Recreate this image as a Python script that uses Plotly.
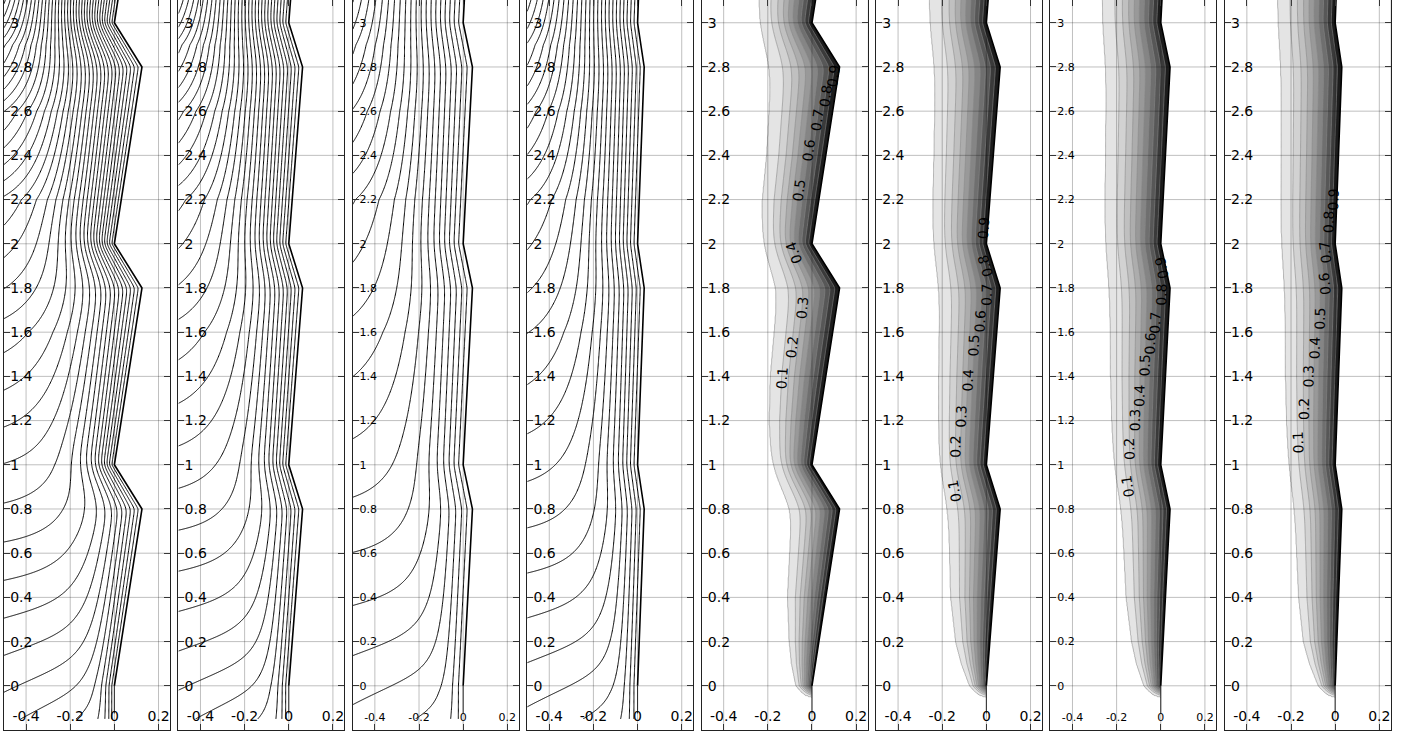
import numpy as np
import plotly.graph_objects as go

# ---------------- data ----------------
# zig-zag wall: vertices (y) and relative offset (x / amplitude)
WALL_Y = [-0.2, 0.0, 0.8, 1.0, 1.8, 2.0, 2.8, 3.0, 3.8, 4.0]
WALL_SHAPE = [0.0, 0.0, 1.0, 0.0, 1.0, 0.0, 1.0, 0.0, 1.0, 0.0]
AMPLITUDES = [0.125, 0.0625, 0.042, 0.03, 0.125, 0.0625, 0.042, 0.03]

# line panels (1-4): near-wall line density and far-field level knots
LINE_A = [85, 72, 48, 62]
LINE_KNOT_Y = [-0.8, -0.2, 0.4, 1.0, 1.6, 2.2, 2.6, 2.9, 3.1]
LINE_P1 = [2.4, 6.0, 9.7, 13.4, 17.5, 23.0, 31.0, 42.0, 56.0]
LINE_P2 = [2.0, 5.0, 8.5, 12.0, 15.6, 20.5, 27.0, 36.0, 48.0]
LINE_P3 = [1.2, 3.5, 6.3, 9.0, 11.6, 15.0, 20.0, 26.0, 33.0]
LINE_P4 = [1.8, 4.5, 7.6, 10.8, 14.0, 18.2, 24.0, 31.5, 41.0]
LINE_KNOTS = [LINE_P1, LINE_P2, LINE_P3, LINE_P4]

# filled panels (5-8): boundary-layer edge thickness knots
DELTA_Y = [-0.055, -0.045, -0.03, -0.015, 0.0, 0.1, 0.2, 0.4, 0.8, 1.2, 1.4, 1.8,
           2.0, 2.2, 2.4, 2.8, 3.0, 3.2]
DELTA_P5 = [0.0, 0.03, 0.048, 0.062, 0.075, 0.105, 0.125, 0.15, 0.165, 0.21, 0.22,
            0.215, 0.23, 0.24, 0.235, 0.24, 0.248, 0.25]
DELTA_P6 = [0.0, 0.03, 0.05, 0.065, 0.078, 0.12, 0.15, 0.18, 0.205, 0.225, 0.232,
            0.24, 0.245, 0.25, 0.252, 0.258, 0.262, 0.265]
DELTA_P7 = [0.0, 0.03, 0.05, 0.065, 0.078, 0.115, 0.14, 0.17, 0.2, 0.228, 0.238,
            0.25, 0.254, 0.258, 0.26, 0.265, 0.268, 0.27]
DELTA_P8 = [0.0, 0.03, 0.05, 0.065, 0.078, 0.12, 0.15, 0.175, 0.2, 0.225, 0.233,
            0.242, 0.246, 0.25, 0.252, 0.258, 0.262, 0.265]
DELTAS = [DELTA_P5, DELTA_P6, DELTA_P7, DELTA_P8]

LEVELS = [0.1, 0.2, 0.3, 0.4, 0.5, 0.6, 0.7, 0.8, 0.9]
LABEL_Y_P5 = [1.39, 1.53, 1.71, 1.96, 2.24, 2.42, 2.56, 2.67, 2.76]
LABEL_Y_P6 = [0.88, 1.08, 1.22, 1.38, 1.54, 1.65, 1.77, 1.90, 2.07]
LABEL_Y_P7 = [0.90, 1.07, 1.20, 1.31, 1.45, 1.55, 1.64, 1.77, 1.89]
LABEL_Y_P8 = [1.10, 1.25, 1.40, 1.53, 1.66, 1.82, 1.96, 2.10, 2.20]
LABEL_YS = [LABEL_Y_P5, LABEL_Y_P6, LABEL_Y_P7, LABEL_Y_P8]

X_TICKS = [-0.4, -0.2, 0.0, 0.2]
X_TICK_TEXT = ['-0.4', '-0.2', '0', '0.2']
Y_TICKS = [0, 0.2, 0.4, 0.6, 0.8, 1, 1.2, 1.4, 1.6, 1.8, 2, 2.2, 2.4, 2.6, 2.8, 3]
Y_TICK_TEXT = ['0', '0.2', '0.4', '0.6', '0.8', '1', '1.2', '1.4', '1.6', '1.8',
               '2', '2.2', '2.4', '2.6', '2.8', '3']

FILL_SCALE = ['#ffffff', '#e4e4e4', '#d2d2d2', '#c0c0c0', '#adadad', '#999999',
              '#858585', '#6f6f6f', '#575757', '#3a3a3a', '#1c1c1c']

# ---------------- geometry helpers ----------------
XR = [-0.5, 0.252]
YR = [-0.2, 3.103]
XG = np.linspace(-0.5, 0.25, 280)
YG_FILL = np.linspace(-0.2, 3.11, 660)
YG_LINE = np.linspace(-0.15, 3.11, 640)
DAMP_L = 0.3
SMOOTH_K = 0.4
YF = np.arange(-1.0, 4.6, 0.002)
SIGMAS = np.linspace(0.0, 0.4, 41)


def smoothed_walls(amp):
    base = amp * np.interp(YF, WALL_Y, WALL_SHAPE)
    out = np.empty((len(SIGMAS), len(YF)))
    out[0] = base
    for i, sg in enumerate(SIGMAS[1:], 1):
        half = int(4 * sg / 0.002) + 1
        kx = np.arange(-half, half + 1) * 0.002
        ker = np.exp(-0.5 * (kx / sg) ** 2)
        ker /= ker.sum()
        padded = np.pad(base, half, mode='edge')
        out[i] = np.convolve(padded, ker, mode='valid')
    return out


WALL_CACHE = {}


def dist_field(amp, xg, yg):
    if amp not in WALL_CACHE:
        WALL_CACHE[amp] = smoothed_walls(amp)
    Wsm = WALL_CACHE[amp]
    sg = np.linspace(-0.5, 1.6, 3000)
    sig_s = np.clip(SMOOTH_K * np.clip(sg, 0, None), 0, SIGMAS[-1])
    a = np.exp(-np.clip(sg, 0, None) / DAMP_L)
    S = np.empty((len(yg), len(xg)))
    for j, y in enumerate(yg):
        Wy = np.array([np.interp(y, YF, Wsm[i]) for i in range(len(SIGMAS))])
        W = np.interp(sig_s, SIGMAS, Wy)
        xs = a * W - sg
        S[j] = np.interp(xg, xs[::-1], sg[::-1])
    return S


def psi_field(i, S, yg):
    A = LINE_A[i]
    Ss = np.clip(S, 1e-5, None)
    k = 0.55 * np.clip(1 - (yg + 0.15) / 0.9, 0, 1) ** 1.5
    yy = yg[:, None] + k[:, None] * (Ss - 0.5)
    Yv = np.interp(yy, LINE_KNOT_Y, LINE_KNOTS[i])
    m = 2.2
    return ((A * Ss) ** (-m) + Yv ** (-m)) ** (-1.0 / m)


def conc_field(k, S, yg):
    d = np.interp(yg, DELTA_Y, DELTAS[k])
    d = np.clip(d, 1e-4, None)
    u = S / d[:, None]
    g = np.clip((yg + 0.055) / 0.06, 0, 1)
    g = g * g * (3 - 2 * g)
    P = np.where(u < 1, np.clip(1 - u, 0, None) ** 1.5, -(u - 1))
    P = np.where(u < 0, 1.0, P)
    C = np.where(P > 0, g[:, None] * P, P)
    C = np.where((yg[:, None] < -0.055), -0.2, C)
    return np.clip(C, -0.3, 1.2)


# ---------------- figure ----------------
fig = go.Figure()
W, H = 1411, 735
PANEL_X0 = 4.0
PANEL_STEP = 174.4
PANEL_W = 166.0
layout = dict(width=W, height=H, margin=dict(l=0, r=0, t=0, b=0),
              paper_bgcolor='white', plot_bgcolor='white', showlegend=False,
              font=dict(family='DejaVu Sans', color='black'))
shapes = []
annotations = []

for p in range(8):
    ax = '' if p == 0 else str(p + 1)
    xref, yref = 'x' + ax, 'y' + ax
    amp = AMPLITUDES[p]
    if p < 4:
        S = dist_field(amp, XG, YG_LINE)
        Z = psi_field(p, S, YG_LINE)
        nlev = int(max(LINE_KNOTS[p])) + 2
        fig.add_trace(go.Contour(
            x=XG, y=YG_LINE, z=np.round(Z, 4), xaxis=xref, yaxis=yref,
            contours=dict(start=1, end=nlev, size=1, coloring='none'),
            line=dict(color='black', width=1, smoothing=1),
            showscale=False, hoverinfo='skip'))
    else:
        k = p - 4
        S = dist_field(amp, XG, YG_FILL)
        Z = conc_field(k, S, YG_FILL)
        cs = [[i / 10, FILL_SCALE[i]] for i in range(11)]
        fig.add_trace(go.Contour(
            x=XG, y=YG_FILL, z=np.round(Z, 4), xaxis=xref, yaxis=yref,
            contours=dict(start=0.0, end=0.9, size=0.1, coloring='fill'),
            colorscale=cs, line=dict(color='#8a8a8a', width=0.6, smoothing=1),
            showscale=False, hoverinfo='skip'))
        # contour labels placed on the contours
        xf = np.linspace(-0.5, 0.2, 2500)
        for lev, ly in zip(LEVELS, LABEL_YS[k]):
            pos = []
            for yy in (ly - 0.03, ly, ly + 0.03):
                Sr = dist_field(amp, xf, np.array([yy]))
                Cr = conc_field(k, Sr, np.array([yy]))[0]
                idx = np.where(Cr >= lev)[0]
                pos.append(xf[idx[0]] if len(idx) else 0.0)
            ang = np.degrees(np.arctan2(0.06, pos[2] - pos[0]))
            annotations.append(dict(x=pos[1], y=ly, xref=xref, yref=yref,
                                    text='%.1f' % lev, showarrow=False,
                                    textangle=-ang,
                                    font=dict(size=14, family='DejaVu Sans', color='black')))
    # white cover right of the wall
    wx = [amp * v for v in WALL_SHAPE]
    fig.add_trace(go.Scatter(x=wx + [0.3, 0.3], y=WALL_Y + [4.0, -0.2], fill='toself',
                             fillcolor='white', mode='none', xaxis=xref, yaxis=yref,
                             hoverinfo='skip'))
    # wall line
    fig.add_trace(go.Scatter(x=wx[1:], y=WALL_Y[1:], mode='lines',
                             line=dict(color='black', width=1.6),
                             xaxis=xref, yaxis=yref, hoverinfo='skip'))
    fig.add_trace(go.Scatter(x=[0, 0], y=[-0.125, 0], mode='lines',
                             line=dict(color='#333', width=1),
                             xaxis=xref, yaxis=yref, hoverinfo='skip'))
    fs = 11 if p in (2, 6) else 14
    x0 = (PANEL_X0 + PANEL_STEP * p) / W
    x1 = (PANEL_X0 + PANEL_STEP * p + PANEL_W) / W
    layout['xaxis' + ax] = dict(domain=[x0, x1], range=XR, anchor=yref,
                                tickvals=X_TICKS, ticktext=X_TICK_TEXT,
                                ticks='inside', ticklen=6, mirror='ticks',
                                showline=True, linecolor='#222', linewidth=1,
                                showgrid=False, zeroline=False,
                                ticklabelposition='inside', ticklabeloverflow='allow',
                                tickfont=dict(size=fs, family='DejaVu Sans', color='black'))
    layout['yaxis' + ax] = dict(domain=[5 / H, 1], range=YR, anchor=xref,
                                tickvals=Y_TICKS, ticktext=Y_TICK_TEXT,
                                ticks='inside', ticklen=6, mirror='ticks',
                                showline=True, linecolor='#222', linewidth=1,
                                showgrid=False, zeroline=False,
                                ticklabelposition='inside', ticklabeloverflow='allow',
                                tickfont=dict(size=fs, family='DejaVu Sans', color='black'))
    for xv in X_TICKS:
        shapes.append(dict(type='line', xref=xref, yref=yref, x0=xv, x1=xv,
                           y0=YR[0], y1=YR[1], layer='above',
                           line=dict(color='rgba(0,0,0,0.25)', width=1)))
    for yv in Y_TICKS:
        shapes.append(dict(type='line', xref=xref, yref=yref, x0=XR[0], x1=XR[1],
                           y0=yv, y1=yv, layer='above',
                           line=dict(color='rgba(0,0,0,0.25)', width=1)))

layout['shapes'] = shapes
layout['annotations'] = annotations
fig.update_layout(**layout)
fig.write_html('out.html')
